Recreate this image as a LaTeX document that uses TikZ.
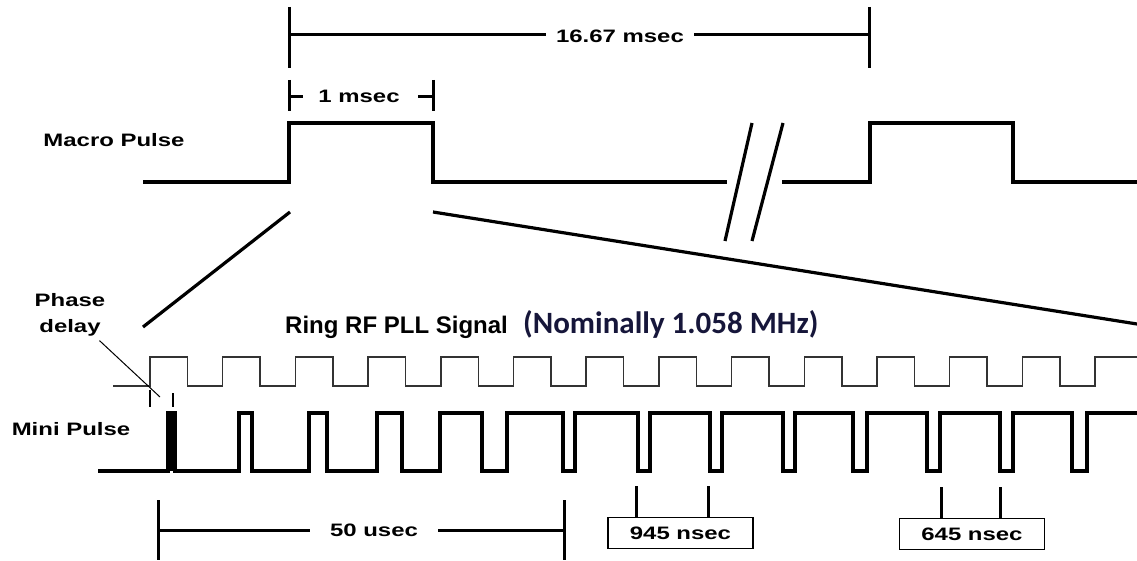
\documentclass[tikz,border=0pt]{standalone}
\usepackage{fontspec}
\setmainfont{Liberation Sans}
\newfontfamily\calib{Carlito}
\usepackage{graphicx}
\usetikzlibrary{positioning}
\definecolor{navy}{RGB}{22,22,58}
\newcommand{\wlab}[1]{\scalebox{1.33}[1]{#1}}
\tikzset{lbl/.style={font=\bfseries\fontsize{18}{26}\selectfont,inner sep=0pt}}
\tikzset{sig/.style={line width=3.2pt},rf/.style={line width=1.5pt,black!80},
    dim/.style={line width=3pt},pointer/.style={line width=1pt},
    valbox/.style={draw,lbl,line width=1.8pt,minimum width=145pt,minimum height=31pt}}

\begin{document}
\begin{tikzpicture}[x=1pt,y=-1pt]
    \useasboundingbox (0,0) rectangle (1137,561);
    % macro pulse
    \coordinate (up) at (289,123);
    \coordinate (down) at (433,123);
    \draw[sig] (143,182) -- (289,182) -- (up) -- (down) -- (433,182) -- (727,182);
    \draw[sig] (782,182) -- (870,182) -- (870,123) -- (1013,123) -- (1013,182) -- (1137,182);
    \draw[sig] (752,123) -- (725,241);
    \draw[sig] (783,123) -- (752,241);
    \draw[sig] (290,212) -- (143,327);
    \draw[sig] (433,212) -- (1137,324);
    % 16.67 msec
    \node[lbl,inner xsep=10pt] (period) at (620,36) {\wlab{16.67 msec}};
    \coordinate (p1) at (289,35);
    \coordinate (p2) at (869,35);
    \draw[dim] (289,7) -- (289,68) (869,7) -- (869,68);
    \draw[dim] (p1) -- (p1 -| period.west) (period.east |- p2) -- (p2);
    % 1 msec
    \node[lbl] (width) at (359,96.5) {\wlab{1 msec}};
    \draw[dim] (289,80) -- (289,111) (289,97) -- ++(14,0);
    \draw[dim] (433,80) -- (433,111) (433,97) -- ++(-15,0);
    \node[lbl] (macro) at (114,140) {\wlab{Macro Pulse}};
    % ring rf
    \node[anchor=base west,inner sep=0pt,font=\bfseries\fontsize{24}{28}\selectfont] (ring) at (285,333) {Ring RF PLL Signal};
    \node[anchor=base west,inner sep=0pt,text=navy,font=\calib\bfseries\fontsize{31}{36}\selectfont] (nominal) at (523,333) {(Nominally 1.058 MHz)};
    \draw[rf] (113,386) \foreach \k in {0,...,12} {
        -- ({150+72.7*\k},386) -- ({150+72.7*\k},357) -- ({187.5+72.7*\k},357) -- ({187.5+72.7*\k},386)}
        -- (1095,386) -- (1095,357) -- (1137,357);
    % phase delay
    \node[lbl,align=center] (phase) at (70,315) {\wlab{Phase}\\\wlab{delay}};
    \coordinate (pd) at (160,397);
    \draw[pointer] ([shift={(-6,4)}]phase.south east) -- (pd);
    \draw[pointer,line width=1.3pt] (150,390) -- (150,407) (173,393) -- (173,407);
    % mini pulse
    \node[lbl] (mini) at (71,429.5) {\wlab{Mini Pulse}};
    \fill (168,413) rectangle (175,471);
    \draw[sig] (98,471) \foreach \r/\f in {168/175,239/252,309/327,377/402,440/482,507/563,
        575/638,650/710,722/783,795/853,867/927,940/1000,1013/1072} {
        -- (\r,471) -- (\r,413) -- (\f,413) -- (\f,471)}
        -- (1087,471) -- (1087,413) -- (1137,413);
    % 50 usec
    \node[lbl,inner xsep=20pt] (span) at (374,530) {\wlab{50 usec}};
    \coordinate (s1) at (158,530);
    \coordinate (s2) at (564,530);
    \draw[dim] (158,500) -- (158,560) (564,500) -- (564,560);
    \draw[dim] (s1) -- (span.west) (span.east) -- (s2);
    % nsec boxes
    \node[valbox] (b945) at (680.5,533) {\wlab{945 nsec}};
    \node[valbox] (b645) at (972,534) {\wlab{645 nsec}};
    \draw[dim] ([xshift=29pt]b945.north west) -- ++(0,-31) ([xshift=101pt]b945.north west) -- ++(0,-31);
    \draw[dim] ([xshift=42.5pt]b645.north west) -- ++(0,-31) ([xshift=101.5pt]b645.north west) -- ++(0,-31);
\end{tikzpicture}
\end{document}
